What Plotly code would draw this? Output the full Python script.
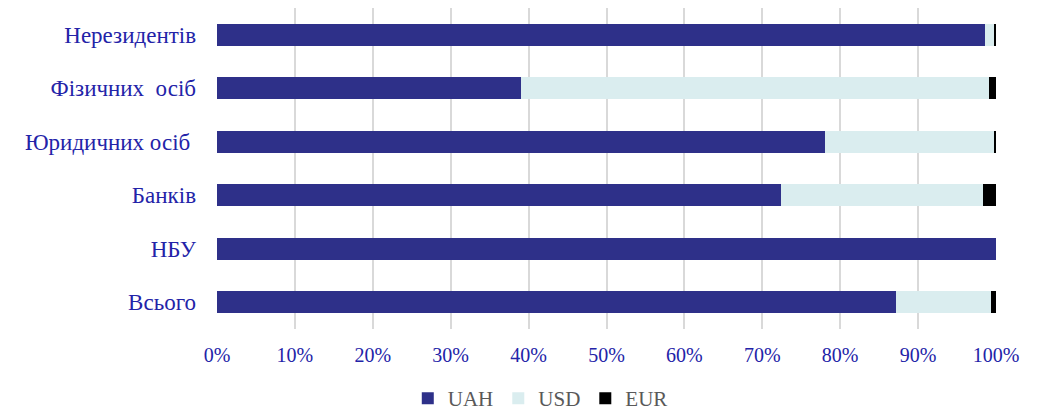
import plotly.graph_objects as go

categories = ["Всього", "НБУ", "Банків", "Юридичних осіб\u00a0", "Фізичних\u00a0 осіб", "Нерезидентів"]
uah = [87.2, 100.0, 72.4, 78.0, 39.0, 98.6]
usd = [12.1, 0.0, 25.9, 21.8, 60.1, 1.2]
eur = [0.7, 0.0, 1.7, 0.2, 0.9, 0.2]
x_ticks = [0, 10, 20, 30, 40, 50, 60, 70, 80, 90, 100]
x_tick_labels = [f"{v}%" for v in x_ticks]

series = [("UAH", uah, "#2E3089"), ("USD", usd, "#DAEDEF"), ("EUR", eur, "#000000")]
FONT = "Liberation Serif, Times New Roman, serif"

fig = go.Figure()
for name, vals, col in series:
    fig.add_trace(go.Bar(
        y=categories, x=vals, name=name, orientation="h",
        marker=dict(color=col, line=dict(width=0)),
    ))

fig.update_layout(
    barmode="stack",
    bargap=0.59,
    width=1029, height=409,
    margin=dict(l=209, r=41, t=0, b=88, autoexpand=False),
    paper_bgcolor="white", plot_bgcolor="white",
    font=dict(family=FONT),
    showlegend=True,
    legend=dict(orientation="h", x=0.415, xanchor="center",
                yref="container", y=0.045, yanchor="middle",
                font=dict(family=FONT, size=21, color="#595959"), traceorder="normal",
                itemsizing="constant"),
    xaxis=dict(range=[0, 100], tickvals=x_ticks, ticktext=x_tick_labels,
               showgrid=True, gridcolor="#D9D9D9", gridwidth=2,
               zeroline=False, showline=False,
               tickfont=dict(family=FONT, size=20, color="#2323A8"), ticks="", ticklabelstandoff=12),
    yaxis=dict(showgrid=False, zeroline=False, showline=False, ticks="",
               tickfont=dict(family=FONT, size=23, color="#2323A8"), ticklabelstandoff=20),
)

fig.write_html("out.html")
